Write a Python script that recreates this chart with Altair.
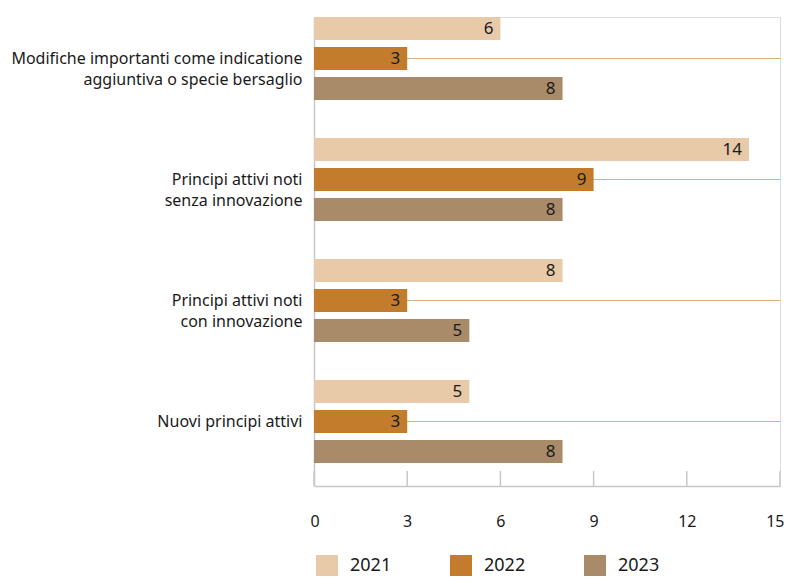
import altair as alt
import pandas as pd

categories = [
    "Modifiche importanti come indicatione|aggiuntiva o specie bersaglio",
    "Principi attivi noti|senza innovazione",
    "Principi attivi noti|con innovazione",
    "Nuovi principi attivi",
]
years = ["2021", "2022", "2023"]
v2021 = [6, 14, 8, 5]
v2022 = [3, 9, 3, 3]
v2023 = [8, 8, 5, 8]
x_ticks = [0, 3, 6, 9, 12, 15]
colors = ["#e8c9a8", "#c27c2c", "#a98b69"]

rows = []
for yr, vals in zip(years, [v2021, v2022, v2023]):
    for c, v in zip(categories, vals):
        rows.append({"cat": c, "year": yr, "value": v})
df = pd.DataFrame(rows)
ticks_df = pd.DataFrame({"t": x_ticks})

W, H = 466, 469
FONT = "Noto Sans"

xscale = alt.Scale(domain=[0, 15], nice=False)
yscale = alt.Scale(domain=categories, paddingInner=0.314, paddingOuter=0.095, align=0)
yoff = alt.YOffset("year:N", scale=alt.Scale(domain=years, paddingInner=0.233, paddingOuter=0))

base = alt.Chart(df)

bars = base.mark_bar().encode(
    x=alt.X("value:Q", scale=xscale,
            axis=alt.Axis(values=x_ticks, title=None, ticks=False, grid=False,
                          domainColor="#c8c8c8", domainWidth=1.5,
                          labelFontSize=16, labelPadding=27, labelColor="#1a1a1a",
                          labelFont=FONT, labelFlush=True, labelFlushOffset=4)),
    y=alt.Y("cat:N", scale=yscale, sort=categories,
            axis=alt.Axis(title=None, ticks=False, grid=True, gridColor="#dcae80",
                          gridWidth=1, bandPosition=0.5,
                          domainColor="#c8c8c8", domainWidth=1.5,
                          labelFontSize=16, labelPadding=12, labelLimit=0,
                          labelColor="#1a1a1a", labelFont=FONT,
                          labelLineHeight=21,
                          labelExpr="split(datum.label, '|')")),
    yOffset=yoff,
    color=alt.Color("year:N", scale=alt.Scale(domain=years, range=colors),
                    legend=alt.Legend(title=None, orient="none", direction="horizontal",
                                      legendX=2, legendY=538, symbolType="square",
                                      symbolSize=484, symbolStrokeWidth=0,
                                      labelFontSize=18, labelOffset=12,
                                      columnPadding=58, labelColor="#1a1a1a",
                                      labelFont=FONT, padding=0)),
)

labels = base.mark_text(align="right", baseline="middle", dx=-7, fontSize=17,
                        font=FONT, color="#1a1a1a").encode(
    x=alt.X("value:Q", scale=xscale),
    y=alt.Y("cat:N", scale=yscale, sort=categories),
    yOffset=yoff,
    text=alt.Text("value:Q"),
)

tick_rules = alt.Chart(ticks_df).mark_rule(color="#c8c8c8", strokeWidth=1.5).encode(
    x=alt.X("t:Q", scale=xscale),
    y=alt.value(H - 15),
    y2=alt.value(H),
)

chart = alt.layer(bars, labels, tick_rules).properties(
    width=W, height=H,
    autosize=alt.AutoSizeParams(type="none"),
    padding={"left": 306, "top": 9, "right": 4, "bottom": 90},
).configure_view(stroke=None).configure(font=FONT)

chart.save("out.html", embed_options={"renderer": "svg", "actions": False})
